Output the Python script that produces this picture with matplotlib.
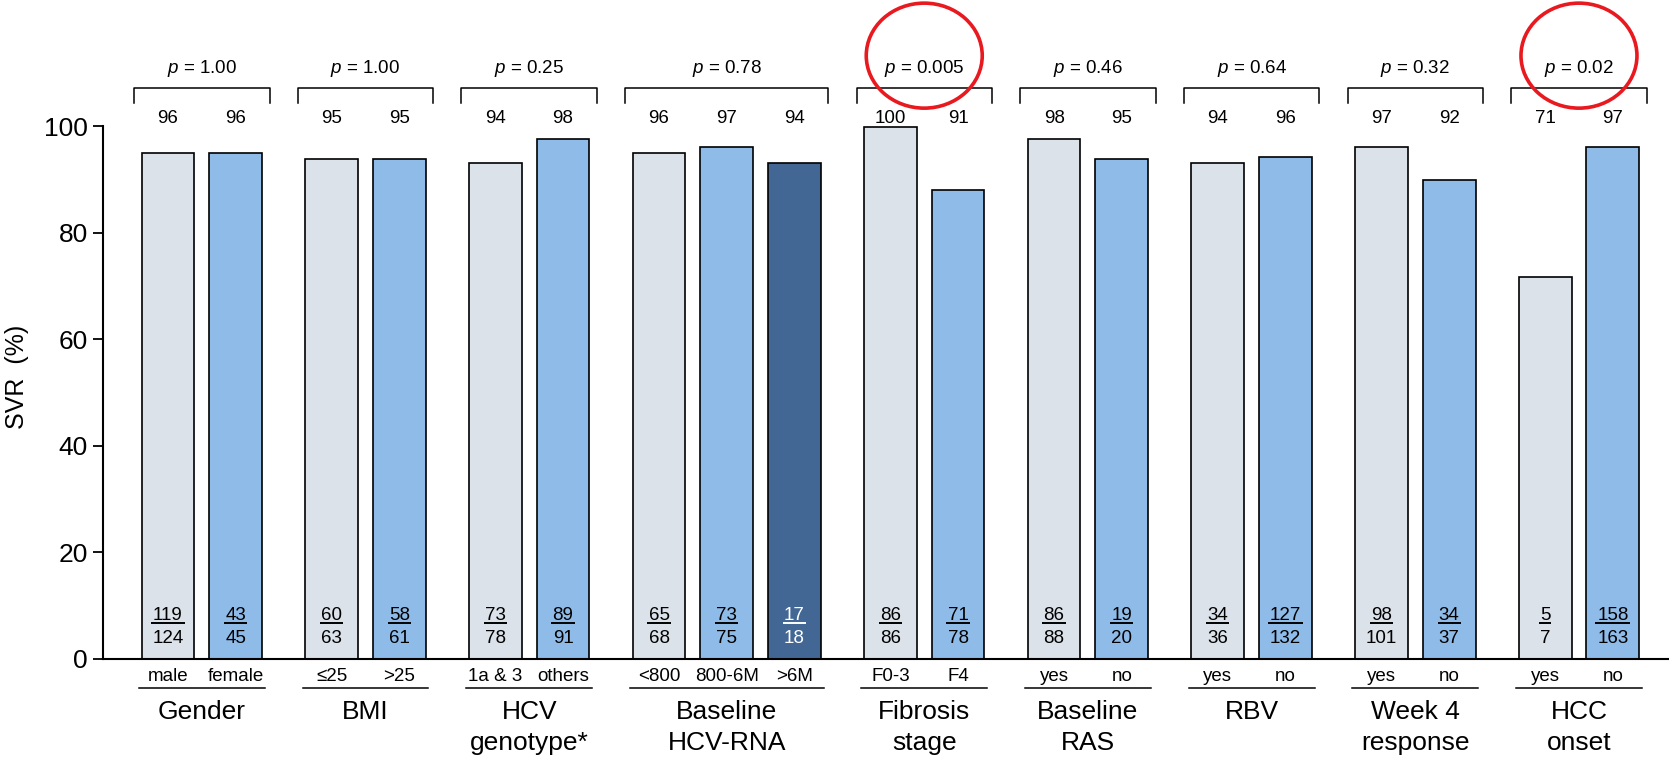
import numpy as np
import matplotlib.pyplot as plt
from matplotlib.patches import Ellipse

plt.rcParams['font.family'] = ['Liberation Sans', 'DejaVu Sans']
plt.rcParams['mathtext.fontset'] = 'custom'
plt.rcParams['mathtext.rm'] = 'Liberation Sans'
plt.rcParams['mathtext.it'] = 'Liberation Sans:italic'

# data
groups = ['Gender', 'BMI', 'HCV\ngenotype*', 'Baseline\nHCV-RNA', 'Fibrosis\nstage',
          'Baseline\nRAS', 'RBV', 'Week 4\nresponse', 'HCC\nonset']
cats = [['male', 'female'], ['≤25', '>25'], ['1a & 3', 'others'], ['<800', '800-6M', '>6M'],
        ['F0-3', 'F4'], ['yes', 'no'], ['yes', 'no'], ['yes', 'no'], ['yes', 'no']]
svr = [[94.9, 94.9], [93.9, 93.9], [93.0, 97.6], [94.9, 96.0, 93.0], [99.8, 88.0],
       [97.6, 93.9], [93.0, 94.2], [96.0, 89.8], [71.6, 96.0]]
pct = [[96, 96], [95, 95], [94, 98], [96, 97, 94], [100, 91], [98, 95], [94, 96], [97, 92], [71, 97]]
num = [[119, 43], [60, 58], [73, 89], [65, 73, 17], [86, 71], [86, 19], [34, 127], [98, 34], [5, 158]]
den = [[124, 45], [63, 61], [78, 91], [68, 75, 18], [86, 78], [88, 20], [36, 132], [101, 37], [7, 163]]
pvals = ['1.00', '1.00', '0.25', '0.78', '0.005', '0.46', '0.64', '0.32', '0.02']
circled = [4, 8]

colors = ['#dbe2ea', '#8fbbe8', '#426795']
txtcol = ['black', 'black', 'white']

W, H = 1669, 758
fig = plt.figure(figsize=(W / 100, H / 100), dpi=100)
ax = fig.add_axes([103 / W, 99 / H, 1566 / W, 659 / H])

gap = 1.418
px = 67.7  # pixels per x unit
py = 5.33  # pixels per y unit
fs = 13.5

x = 0.0
for gi, g in enumerate(groups):
    n = len(svr[gi])
    xs = x + np.arange(n)
    for j in range(n):
        ax.bar(xs[j], svr[gi][j], width=0.78, color=colors[j], edgecolor='black',
               linewidth=1.2, zorder=2)
        ax.text(xs[j], 100.5, str(pct[gi][j]), ha='center', va='baseline', fontsize=fs)
        s = str(num[gi][j])
        ax.text(xs[j], 7.3, s, ha='center', va='baseline', fontsize=fs, color=txtcol[j], zorder=3)
        ax.text(xs[j], 2.95, str(den[gi][j]), ha='center', va='baseline', fontsize=fs,
                color=txtcol[j], zorder=3)
        hw = len(s) * 5.8 / px
        ax.plot([xs[j] - hw, xs[j] + hw], [6.8, 6.8], color=txtcol[j], lw=1.4, zorder=3,
                solid_capstyle='butt')
        ax.text(xs[j], -4.1, cats[gi][j], ha='center', va='baseline', fontsize=fs, clip_on=False)
    c = xs.mean()
    half = (n - 1) / 2
    # bracket with p value
    bl, br = c - half - 0.5, c + half + 0.5
    ax.plot([bl, bl, br, br], [104.3, 107.1, 107.1, 104.3], color='black', lw=1.1,
            clip_on=False)
    ax.text(c, 109.9, r'$\it{p}$ = ' + pvals[gi], ha='center', va='baseline', fontsize=fs)
    # group underline and name
    ul, ur = c - half - 0.43, c + half + 0.43
    ax.plot([ul, ur], [-5.4, -5.4], color='black', lw=1.1, clip_on=False)
    for k, line in enumerate(g.split('\n')):
        ax.text(c, -11.3 - k * 5.8, line, ha='center', va='baseline', fontsize=19, clip_on=False)
    if gi in circled:
        ax.add_patch(Ellipse((c, 113.2), 116 / px, 105 / py, fill=False, edgecolor='#e8191f',
                             lw=2.6, clip_on=False, zorder=4))
    x = xs[-1] + gap

ax.set_xlim(-0.96, x - gap + 0.83)
ax.set_ylim(0, 659 / py)
ax.set_yticks([0, 20, 40, 60, 80, 100])
ax.set_xticks([])
ax.tick_params(axis='y', labelsize=19, length=7.5, width=1.3, pad=3.5)
for side in ['top', 'right']:
    ax.spines[side].set_visible(False)
ax.spines['left'].set_bounds(0, 100)
ax.spines['left'].set_linewidth(1.5)
ax.spines['bottom'].set_linewidth(1.5)
ax.spines['left'].set_zorder(5)

fig.text(17 / W, 1 - 377 / H, 'SVR  (%)', rotation=90, ha='center', va='center', fontsize=18)

fig.savefig('out.png', dpi=100)
